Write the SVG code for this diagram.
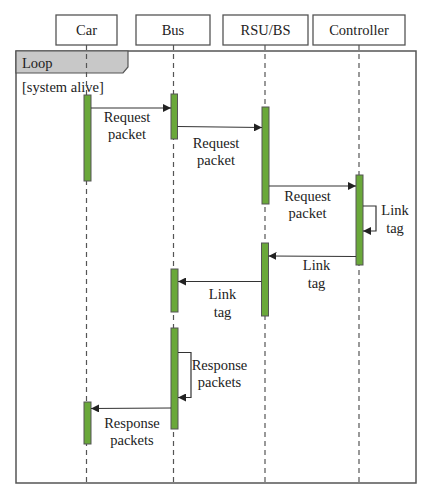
<svg xmlns="http://www.w3.org/2000/svg" width="432" height="500" viewBox="0 0 432 500">
<style>
.box{fill:#fff;stroke:#555;stroke-width:1.3}
.life{stroke:#555;stroke-width:1.2;stroke-dasharray:5,4;fill:none}
.bar{fill:#6aa83a;stroke:#555;stroke-width:1}
.msg{stroke:#333;stroke-width:1.2;fill:none;marker-end:url(#ah)}
text{font-family:"Liberation Serif","Times New Roman",serif;font-size:14.5px;fill:#222}
.c{text-anchor:middle}
</style>
<defs>
<marker id="ah" viewBox="0 0 10 10" refX="10" refY="5" markerWidth="8" markerHeight="8" markerUnits="userSpaceOnUse" orient="auto">
<path d="M0,0 L10,5 L0,10 z" fill="#222"/>
</marker>
</defs>
<rect width="432" height="500" fill="#fff"/>
<g id="frame">
<rect x="16" y="51" width="400" height="432" fill="none" stroke="#555" stroke-width="1.5"/>
<path d="M16,51 H128 V67 L123,73 H16 Z" fill="#c8c8c8" stroke="#555" stroke-width="1.2"/>
<text x="22" y="68">Loop</text>
<text x="22" y="92">[system alive]</text>
</g>
<g id="lifelines">
<line class="life" x1="86.5" y1="45" x2="86.5" y2="483"/>
<line class="life" x1="173.5" y1="45" x2="173.5" y2="483"/>
<line class="life" x1="265" y1="45" x2="265" y2="483"/>
<line class="life" x1="359" y1="45" x2="359" y2="483"/>
</g>
<g id="car"><rect class="box" x="56" y="15" width="61" height="30"/><text class="c" x="86.5" y="35">Car</text></g>
<g id="bus"><rect class="box" x="136" y="15" width="74" height="30"/><text class="c" x="173" y="35">Bus</text></g>
<g id="rsu"><rect class="box" x="223" y="15" width="85" height="30"/><text class="c" x="265.5" y="35">RSU/BS</text></g>
<g id="controller"><rect class="box" x="313" y="15" width="92" height="30"/><text class="c" x="359" y="35">Controller</text></g>
<g id="activations">
<rect class="bar" x="84" y="95" width="7" height="86"/>
<rect class="bar" x="171" y="94" width="6.5" height="45"/>
<rect class="bar" x="262" y="107" width="7" height="97"/>
<rect class="bar" x="356" y="175" width="7" height="90"/>
<rect class="bar" x="261.5" y="243" width="7" height="73"/>
<rect class="bar" x="171" y="269" width="7" height="43"/>
<rect class="bar" x="171" y="328" width="7" height="101"/>
<rect class="bar" x="84" y="402" width="7" height="42"/>
</g>
<g id="connectors">
<line class="msg" x1="91" y1="108" x2="171" y2="108"/>
<line class="msg" x1="177.5" y1="126.5" x2="262" y2="127.5"/>
<line class="msg" x1="269" y1="186" x2="356" y2="186"/>
<polyline class="msg" points="363,206 376,206 376,231 363,231"/>
<line class="msg" x1="356" y1="256.5" x2="268.5" y2="256"/>
<line class="msg" x1="261.5" y1="281.5" x2="178" y2="281.5"/>
<polyline class="msg" points="178,352.5 191,352.5 191,397.5 178,397.5"/>
<line class="msg" x1="171" y1="408" x2="91" y2="408.5"/>
</g>
<g id="labels">
<text class="c" x="127" y="122">Request</text><text class="c" x="127" y="139">packet</text>
<text class="c" x="216" y="148">Request</text><text class="c" x="216" y="165">packet</text>
<text class="c" x="307.5" y="201">Request</text><text class="c" x="307.5" y="218">packet</text>
<text class="c" x="395" y="215">Link</text><text class="c" x="395" y="233">tag</text>
<text class="c" x="316.5" y="270">Link</text><text class="c" x="316.5" y="288">tag</text>
<text class="c" x="222.5" y="299">Link</text><text class="c" x="222.5" y="317">tag</text>
<text class="c" x="219.5" y="370">Response</text><text class="c" x="219.5" y="387">packets</text>
<text class="c" x="132" y="428">Response</text><text class="c" x="132" y="445">packets</text>
</g>
</svg>
